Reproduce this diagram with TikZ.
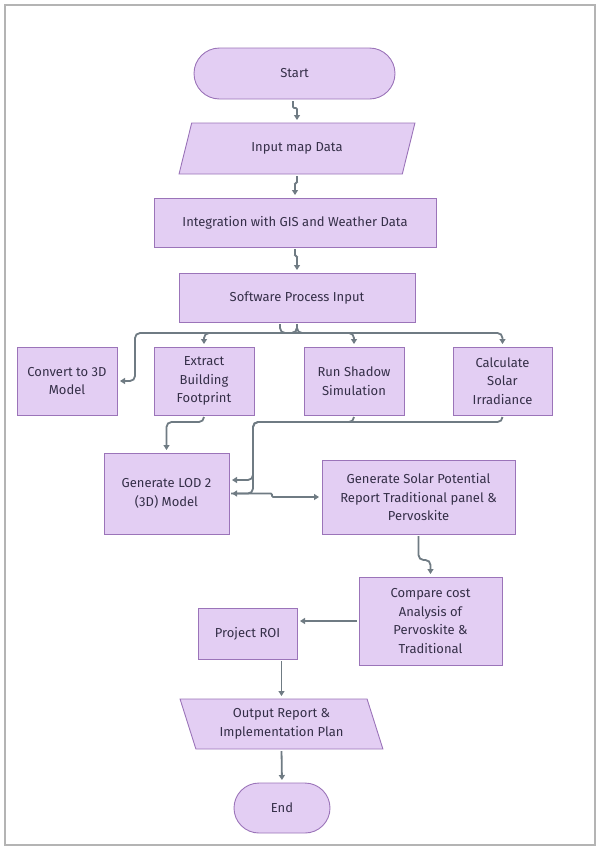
\documentclass[tikz,border=0pt]{standalone}
\usepackage{fontspec}
\setmainfont{Fira Sans}
\usepackage{xcolor}
\usepackage{tikz}
\usetikzlibrary{positioning,shapes.geometric,shapes.misc,arrows.meta}

\definecolor{boxfill}{HTML}{E3CEF3}
\definecolor{boxline}{HTML}{9B74B9}
\definecolor{flowgray}{HTML}{6F7B83}
\definecolor{textdark}{HTML}{352F48}
\definecolor{framegray}{HTML}{B4B4B4}

\begin{document}
\begin{tikzpicture}[
    x=1pt, y=1pt,
    node distance=25pt,
    font=\fontsize{13}{18.5}\selectfont,
    box/.style={rectangle, draw=boxline, fill=boxfill, line width=0.9pt, text=textdark, align=center, inner sep=2pt, outer sep=0pt},
    terminal/.style={box, rounded rectangle},
    io/.style={box, trapezium, trapezium stretches=true},
    task/.style={box, minimum width=100pt, minimum height=68pt},
    flow/.style={draw=flowgray, line width=1.8pt, rounded corners=5pt, -{Triangle[length=5pt,width=6pt]}, shorten >=3pt, shorten <=2pt},
    jog/.style={flow, rounded corners=1.2pt}
]

\useasboundingbox (0,0) rectangle (601,-855);
\draw[framegray, line width=1.5pt] (5,-5) rectangle (595,-845);

\node[terminal, minimum width=205pt, minimum height=51pt] (start) at (294.5,-73.5) {Start};
\node[io, trapezium left angle=70, trapezium right angle=110, minimum width=236pt, minimum height=51pt, below=24pt of start, xshift=2.5pt] (input) {Input map Data};
\node[box, minimum width=282pt, minimum height=49pt, below=24pt of input, xshift=-2pt] (integ) {Integration with GIS and Weather Data};
\node[box, minimum width=236pt, minimum height=49pt, below=26pt of integ, xshift=2pt] (soft) {Software Process Input};

% four tasks in a row
\node[task, below=25pt of soft, xshift=57pt] (shadow) {Run Shadow\\Simulation};
\node[task, left=50pt of shadow] (extract) {Extract\\Building\\Footprint};
\node[task, left=37pt of extract] (convert) {Convert to 3D\\Model};
\node[task, right=49pt of shadow, minimum width=99pt] (irrad) {Calculate\\Solar\\Irradiance};

\node[box, minimum width=125pt, minimum height=81pt, below=38pt of extract, xshift=-37.5pt] (lod) {Generate LOD 2\\(3D) Model};
\node[box, minimum width=193pt, minimum height=74pt, right=93pt of lod, yshift=-3.5pt] (report) {Generate Solar Potential\\Report Traditional panel \&\\Pervoskite};
\node[box, minimum width=143pt, minimum height=88pt, below=43pt of report, xshift=12pt] (compare) {Compare cost\\Analysis of\\Pervoskite \&\\Traditional};
\node[box, minimum width=99pt, minimum height=51pt, left=62pt of compare, yshift=-12.5pt] (roi) {Project ROI};
\node[io, trapezium left angle=109, trapezium right angle=71, minimum width=203pt, minimum height=50pt, below=40pt of roi, xshift=34pt] (output) {Output Report \&\\Implementation Plan};
\node[terminal, minimum width=100pt, minimum height=50pt, below=34pt of output, xshift=0.5pt] (end) {End};

\draw[jog] ([xshift=-1.5pt]start.south) -- ++(0,-9) -| (input.north);
\draw[jog] (input.south) -- ++(0,-9) -| (integ.north);
\draw[jog] (integ.south) -- ++(0,-9) -| (soft.north);

\draw[flow] (soft.south) -- ++(0,-11) -| ([xshift=18pt]convert.east) -- (convert.east);
\draw[flow] (soft.south) -- ++(0,-11) -| (extract.north);
\draw[flow] ([xshift=-17pt]soft.south) -- ++(0,-11) -| (shadow.north);
\draw[flow] (soft.south) -- ++(0,-11) -| (irrad.north);

\draw[flow] (extract.south) -- ++(0,-7) -| (lod.north);
\draw[flow] (shadow.south) -- ++(0,-7) -| ([xshift=24pt,yshift=13.5pt]lod.east) -- ([yshift=13.5pt]lod.east);
\draw[flow] (irrad.south) -- ++(0,-7) -| ([xshift=24pt]lod.east) -- (lod.east);
\draw[jog] (lod.east) -- ++(43,0) |- (report.west);

\draw[flow] (report.south) -- ++(0,-26) -| (compare.north);
\draw[flow, rounded corners=0pt] (compare.west) -- (compare.west -| roi.east);
\draw[flow, rounded corners=0pt] (roi.south -| output.north) -- (output.north);
\draw[flow, rounded corners=0pt] (output.south) -- (end.north);

\end{tikzpicture}
\end{document}
